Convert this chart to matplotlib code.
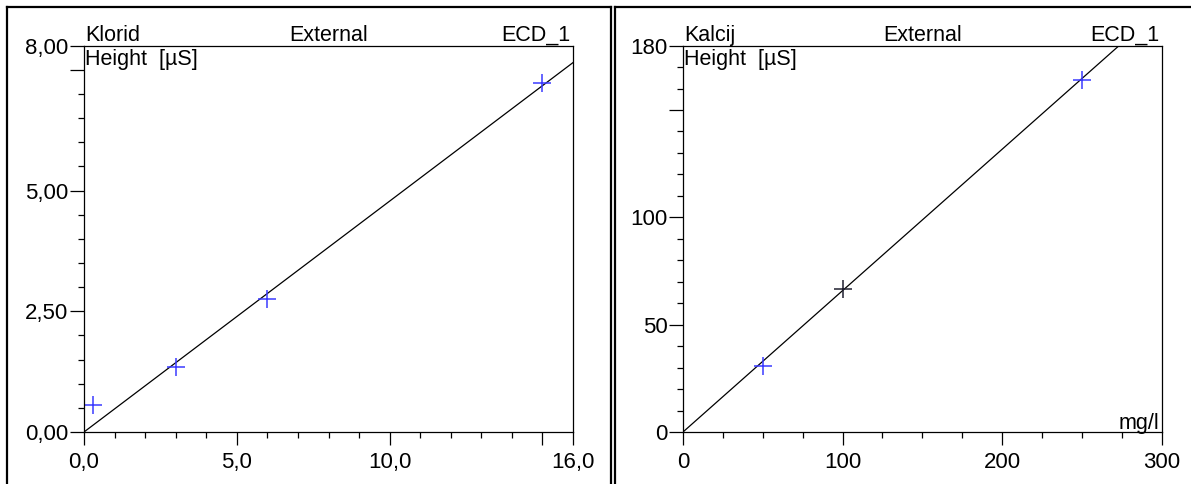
import matplotlib
matplotlib.use('Agg')
import matplotlib.pyplot as plt
from matplotlib.ticker import FixedLocator, MultipleLocator
from matplotlib.lines import Line2D

plt.rcParams['font.family'] = ['Liberation Sans', 'DejaVu Sans']

# Klorid calibration
cl_conc = [0.3, 3.0, 6.0, 15.0]
cl_height = [0.56, 1.35, 2.75, 7.23]
cl_colors = ['#3a3aff', '#3a3aff', '#3a3aff', '#3a3aff']
cl_slope = 0.478
cl_xticks = [0, 5, 10, 15, 16]
cl_xlabels = ['0,0', '5,0', '10,0', '', '16,0']
cl_yticks = [0, 2.5, 5, 7.5, 8]
cl_ylabels = ['0,00', '2,50', '5,00', '', '8,00']

# Kalcij calibration
ca_conc = [50, 100, 250]
ca_height = [30.8, 66.6, 164.0]
ca_colors = ['#3a3aff', '#202030', '#3a3aff']
ca_slope = 0.6586
ca_xticks = [0, 100, 200, 300]
ca_xlabels = ['0', '100', '200', '300']
ca_yticks = [0, 50, 100, 150, 180]
ca_ylabels = ['0', '50', '100', '', '180']

W, H = 1191, 484
fig = plt.figure(figsize=(W / 100, H / 100), dpi=100)

ax1 = fig.add_axes([84 / W, (H - 432) / H, (573 - 84) / W, (432 - 45.6) / H])
ax2 = fig.add_axes([683 / W, (H - 432) / H, (1161.7 - 683) / W, (432 - 45.6) / H])

TXT = 15.5
TICK = 16


def setup(ax, xmax, ymax, xt, xl, yt, yl, xminor, yminor, name):
    ax.set_xlim(0, xmax)
    ax.set_ylim(0, ymax)
    ax.xaxis.set_major_locator(FixedLocator(xt))
    ax.set_xticklabels(xl)
    ax.yaxis.set_major_locator(FixedLocator(yt))
    ax.set_yticklabels(yl)
    ax.xaxis.set_minor_locator(MultipleLocator(xminor))
    ax.yaxis.set_minor_locator(MultipleLocator(yminor))
    ax.tick_params(axis='x', which='major', length=9.5, width=0.9, pad=5, labelsize=TICK)
    ax.tick_params(axis='x', which='minor', length=4.5, width=0.9)
    ax.tick_params(axis='y', which='major', length=10, width=0.9, pad=1.2, labelsize=TICK)
    ax.tick_params(axis='y', which='minor', length=4, width=0.9)
    for s in ax.spines.values():
        s.set_linewidth(0.9)
    ax.annotate(name, xy=(0, 1), xycoords='axes fraction', xytext=(1, 3.5),
                textcoords='offset points', va='baseline', ha='left', fontsize=TXT)
    ax.annotate('External', xy=(0.5, 1), xycoords='axes fraction', xytext=(0, 3.5),
                textcoords='offset points', va='baseline', ha='center', fontsize=TXT)
    ax.annotate('ECD_1', xy=(1, 1), xycoords='axes fraction', xytext=(-2, 3.5),
                textcoords='offset points', va='baseline', ha='right', fontsize=TXT)
    ax.annotate('Height  [µS]', xy=(0, 1), xycoords='axes fraction', xytext=(1, -2.5),
                textcoords='offset points', va='top', ha='left', fontsize=TXT)


setup(ax1, 16, 8, cl_xticks, cl_xlabels, cl_yticks, cl_ylabels, 1, 0.5, 'Klorid')
setup(ax2, 300, 180, ca_xticks, ca_xlabels, ca_yticks, ca_ylabels, 25, 10, 'Kalcij')

# calibration lines through origin
ax1.plot([0, 16], [0, 16 * cl_slope], color='black', lw=0.9, clip_on=True)
ax2.plot([0, 300], [0, 300 * ca_slope], color='black', lw=0.9, clip_on=True)

for x, y, c in zip(cl_conc, cl_height, cl_colors):
    ax1.plot(x, y, marker='+', color=c, markersize=13, mew=1.1, ls='none')
for x, y, c in zip(ca_conc, ca_height, ca_colors):
    ax2.plot(x, y, marker='+', color=c, markersize=13, mew=1.1, ls='none')

ax2.annotate('mg/l', xy=(1, 0), xycoords='axes fraction', xytext=(-2, 2.5),
             textcoords='offset points', va='baseline', ha='right', fontsize=TXT)

# panel frames
top = (H - 7) / H
for x0, x1 in [(7 / W, 611 / W), (615 / W, 1.01)]:
    fig.add_artist(Line2D([x0, x1], [top, top], transform=fig.transFigure, color='black', lw=1.6))
    fig.add_artist(Line2D([x0, x0], [-0.01, top], transform=fig.transFigure, color='black', lw=1.6))
fig.add_artist(Line2D([611 / W, 611 / W], [-0.01, top], transform=fig.transFigure, color='black', lw=1.6))

fig.savefig('out.png', dpi=100)
